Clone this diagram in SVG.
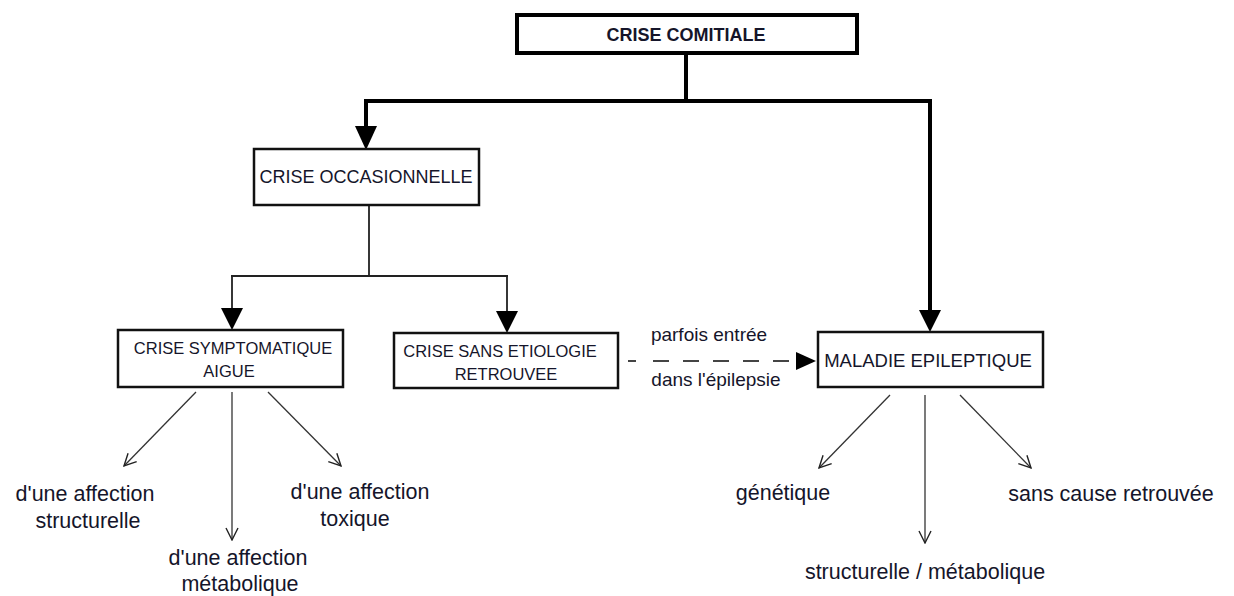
<svg xmlns="http://www.w3.org/2000/svg" width="1234" height="596" viewBox="0 0 1234 596">
<defs>
<style>
.box{fill:#fff;stroke:#111;stroke-width:2.5}
.top{fill:#fff;stroke:#000;stroke-width:4}
.t{font-family:"Liberation Sans",Arial,sans-serif;fill:#15152a;text-anchor:middle}
.cap{font-size:16.5px}
.big{font-size:18px}
.low{font-size:21.5px}
.lbl{font-size:19px}
.thick{fill:none;stroke:#000;stroke-width:4}
.thin{fill:none;stroke:#222;stroke-width:1.8}
.leaf{fill:none;stroke:#333;stroke-width:1.3}
.head{fill:#000}
</style>
<marker id="v" viewBox="0 0 14 14" refX="13" refY="7" markerWidth="14" markerHeight="14" markerUnits="userSpaceOnUse" orient="auto">
<path d="M1,1 L13,7 L1,13" fill="none" stroke="#222" stroke-width="1.4"/>
</marker>
</defs>
<rect width="1234" height="596" fill="#fff"/>
<g id="connectors">
<path class="thick" d="M686,53 V101 M364,101 H932 M366,101 V128 M930,101 V312"/>
<polygon class="head" points="355,126 377,126 366,150"/>
<polygon class="head" points="919,310 941,310 930,332"/>
<path class="thin" d="M369,205 V276 M231,276 H508 M232,276 V310 M507,276 V313"/>
<polygon class="head" points="221,308 243,308 232,330"/>
<polygon class="head" points="496,311 518,311 507,333"/>
<path d="M628,361 H798" fill="none" stroke="#444" stroke-width="2" stroke-dasharray="8 17 16 14 16 14 16 14 16 14 16 14"/>
<polygon class="head" points="796,352 796,370 816,361"/>
<line class="leaf" x1="196" y1="392" x2="124" y2="466" marker-end="url(#v)"/>
<line class="leaf" x1="232" y1="392" x2="232" y2="540" marker-end="url(#v)"/>
<line class="leaf" x1="268" y1="392" x2="341" y2="466" marker-end="url(#v)"/>
<line class="leaf" x1="890" y1="395" x2="819" y2="468" marker-end="url(#v)"/>
<line class="leaf" x1="925" y1="395" x2="925" y2="543" marker-end="url(#v)"/>
<line class="leaf" x1="960" y1="395" x2="1031" y2="468" marker-end="url(#v)"/>
</g>
<g id="crise-comitiale">
<rect class="top" x="517" y="15" width="340" height="38"/>
<text class="t big" x="686" y="41" font-weight="bold">CRISE COMITIALE</text>
</g>
<g id="crise-occasionnelle">
<rect class="box" x="254" y="149" width="225" height="56"/>
<text class="t big" x="366" y="183">CRISE OCCASIONNELLE</text>
</g>
<g id="crise-symptomatique">
<rect class="box" x="118" y="330" width="225" height="57"/>
<text class="t cap" x="233" y="354">CRISE SYMPTOMATIQUE</text>
<text class="t cap" x="229" y="377">AIGUE</text>
</g>
<g id="crise-sans-etiologie">
<rect class="box" x="394" y="333" width="224" height="55"/>
<text class="t cap" x="500" y="357">CRISE SANS ETIOLOGIE</text>
<text class="t cap" x="506" y="380">RETROUVEE</text>
</g>
<g id="maladie-epileptique">
<rect class="box" x="818" y="332" width="225" height="55"/>
<text class="t big" x="928" y="367" style="font-size:18.5px">MALADIE EPILEPTIQUE</text>
</g>
<g id="dashed-label">
<text class="t lbl" x="709" y="341">parfois entrée</text>
<text class="t lbl" x="716" y="386">dans l'épilepsie</text>
</g>
<g id="leaf-structurelle">
<text class="t low" x="85" y="501">d'une affection</text>
<text class="t low" x="88" y="528">structurelle</text>
</g>
<g id="leaf-metabolique">
<text class="t low" x="238" y="565">d'une affection</text>
<text class="t low" x="240" y="591">métabolique</text>
</g>
<g id="leaf-toxique">
<text class="t low" x="360" y="499">d'une affection</text>
<text class="t low" x="355" y="526">toxique</text>
</g>
<g id="leaf-genetique">
<text class="t low" x="783" y="500">génétique</text>
</g>
<g id="leaf-structurelle-metabolique">
<text class="t low" x="925" y="579">structurelle / métabolique</text>
</g>
<g id="leaf-sans-cause">
<text class="t low" x="1111" y="501">sans cause retrouvée</text>
</g>
</svg>
